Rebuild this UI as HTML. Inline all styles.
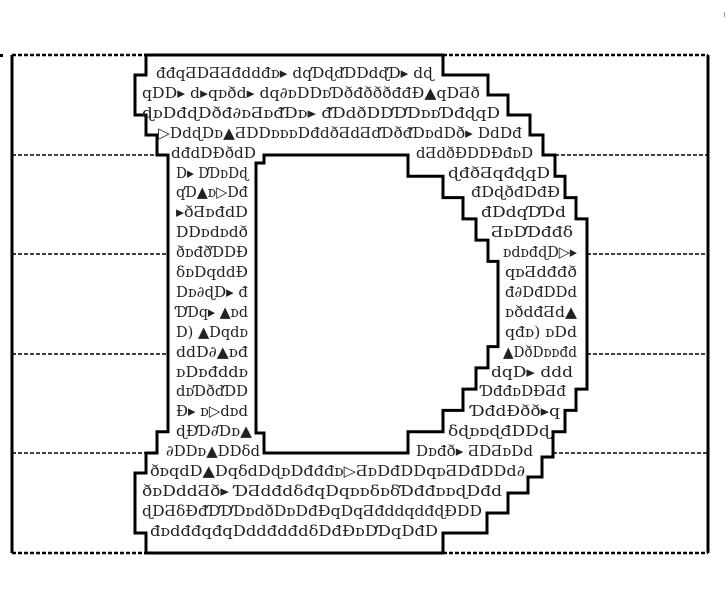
<!DOCTYPE html>
<html><head><meta charset="utf-8"><style>
html,body{margin:0;padding:0;background:#fff;width:726px;height:602px;overflow:hidden}
svg{display:block}
text{font-family:"DejaVu Serif","Liberation Serif",serif;font-size:15px;fill:#222}
</style></head><body>
<svg width="726" height="602" viewBox="0 0 726 602" xmlns="http://www.w3.org/2000/svg">
<rect x="0" y="54" width="3" height="3" fill="#000"/>
<rect x="724" y="12" width="1" height="5" fill="#999"/>
<g stroke="#000" fill="none">
<line x1="12" y1="55" x2="12" y2="553" stroke-width="3"/>
<line x1="708" y1="55" x2="708" y2="553" stroke-width="3"/>
<g stroke-width="2.5" stroke-dasharray="4 2">
<line x1="12" y1="55" x2="146" y2="55"/>
<line x1="443" y1="55" x2="708" y2="55"/>
<line x1="12" y1="553" x2="146" y2="553"/>
<line x1="443" y1="553" x2="708" y2="553"/>
</g>
<g stroke-width="1.5" stroke-dasharray="4 2">
<line x1="12" y1="155" x2="157" y2="155"/><line x1="555" y1="155" x2="708" y2="155"/>
<line x1="12" y1="254" x2="168" y2="254"/><line x1="587" y1="254" x2="708" y2="254"/>
<line x1="12" y1="354" x2="168" y2="354"/><line x1="587" y1="354" x2="708" y2="354"/>
<line x1="12" y1="453" x2="157" y2="453"/><line x1="553" y1="453" x2="708" y2="453"/>
</g>
<path stroke-width="3" d="M146,55 H443 V75 H488 V95 H508 V115 H530 V135 H543 V155 H555 V176.3 H565 V197.6 H576 V218.9 H587 V389.1 H576 V410.4 H565 V431.7 H553 V457 H542 V477 H528 V493 H508 V513 H487 V533 H443 V553 H146 V533 H135 V473 H146 V453 H157 V431.7 H168 V155 H157 V135 H146 V115 H135 V75 H146 Z"/>
<path stroke-width="3" d="M264,155 H408 V176.3 H443 V197.6 H463 V218.9 H476 V240.1 H488 V261.4 H498 V346.6 H488 V367.9 H476 V389.1 H463 V410.4 H443 V431.7 H408 V453 H264 V433 H256 V163 H264 Z"/>
</g>
<g>
<text x="156" y="78" textLength="277" lengthAdjust="spacingAndGlyphs">đđqƋDƋƋđddđᴅ▸ dqƊɖdƊDdɖƊ▸ dɖ</text>
<text x="142" y="98" textLength="338" lengthAdjust="spacingAndGlyphs">qDD▸ d▸qᴅðd▸ dq∂ᴅDDᴅƊðđðððđđĐ▲qDƋð</text>
<text x="142" y="118" textLength="358" lengthAdjust="spacingAndGlyphs">ɖᴅDđɖDðđ∂ᴅƋᴅđƊᴅ▸ đƊdðDDƊƊᴅᴅƊđɖqD</text>
<text x="158" y="138" textLength="364" lengthAdjust="spacingAndGlyphs">▷DdɖDᴅ▲ƋDDᴅᴅᴅDđdðƋdƋdƊðđƊᴅdDð▸ DdDđ</text>
<text x="171" y="158" textLength="85" lengthAdjust="spacingAndGlyphs">dđdDĐðdD</text>
<text x="416" y="158" textLength="117" lengthAdjust="spacingAndGlyphs">dƋdðĐDDĐđᴅD</text>
<text x="176" y="178" textLength="72" lengthAdjust="spacingAndGlyphs">D▸ DƊᴅDɖ</text>
<text x="448" y="178" textLength="102" lengthAdjust="spacingAndGlyphs">ɖđðƋqđɖqD</text>
<text x="176" y="197" textLength="72" lengthAdjust="spacingAndGlyphs">qƊ▲ᴅ▷Dđ</text>
<text x="471" y="197" textLength="89" lengthAdjust="spacingAndGlyphs">đDɖðđDđĐ</text>
<text x="176" y="217" textLength="72" lengthAdjust="spacingAndGlyphs">▸ðƋᴅđdD</text>
<text x="481" y="217" textLength="85" lengthAdjust="spacingAndGlyphs">đDdqƊƊd</text>
<text x="176" y="237" textLength="72" lengthAdjust="spacingAndGlyphs">DDᴅdᴅdð</text>
<text x="491" y="237" textLength="82" lengthAdjust="spacingAndGlyphs">ƋᴅDƊđđδ</text>
<text x="176" y="257" textLength="72" lengthAdjust="spacingAndGlyphs">ðᴅđðƊDĐ</text>
<text x="503" y="257" textLength="74" lengthAdjust="spacingAndGlyphs">ᴅdᴅđɖD▷▸</text>
<text x="176" y="277" textLength="72" lengthAdjust="spacingAndGlyphs">δᴅDqddĐ</text>
<text x="505" y="277" textLength="72" lengthAdjust="spacingAndGlyphs">qᴅƋdđđð</text>
<text x="176" y="297" textLength="72" lengthAdjust="spacingAndGlyphs">Dᴅ∂ɖD▸ đ</text>
<text x="505" y="297" textLength="72" lengthAdjust="spacingAndGlyphs">đ∂DđDDd</text>
<text x="176" y="317" textLength="72" lengthAdjust="spacingAndGlyphs">ƊƊq▸ ▲ᴅd</text>
<text x="505" y="317" textLength="72" lengthAdjust="spacingAndGlyphs">ᴅðdđƋd▲</text>
<text x="176" y="337" textLength="72" lengthAdjust="spacingAndGlyphs">D) ▲Dqdᴅ</text>
<text x="505" y="337" textLength="72" lengthAdjust="spacingAndGlyphs">qđᴅ) ᴅDd</text>
<text x="176" y="357" textLength="72" lengthAdjust="spacingAndGlyphs">ddD∂▲ᴅđ</text>
<text x="503" y="357" textLength="74" lengthAdjust="spacingAndGlyphs">▲DðDᴅᴅđd</text>
<text x="176" y="377" textLength="72" lengthAdjust="spacingAndGlyphs">ᴅDᴅđddᴅ</text>
<text x="491" y="377" textLength="82" lengthAdjust="spacingAndGlyphs">dqD▸ ddd</text>
<text x="176" y="396" textLength="72" lengthAdjust="spacingAndGlyphs">dᴅƊðdƊD</text>
<text x="481" y="396" textLength="85" lengthAdjust="spacingAndGlyphs">ƊđđᴅDĐƋđ</text>
<text x="176" y="416" textLength="72" lengthAdjust="spacingAndGlyphs">Đ▸ ᴅ▷dᴅd</text>
<text x="471" y="416" textLength="89" lengthAdjust="spacingAndGlyphs">ƊđdĐðð▸q</text>
<text x="176" y="436" textLength="76" lengthAdjust="spacingAndGlyphs">ɖĐƊ∂Ɗᴅ▲</text>
<text x="448" y="436" textLength="102" lengthAdjust="spacingAndGlyphs">δɖᴅᴅɖđDDɖ</text>
<text x="166" y="456" textLength="94" lengthAdjust="spacingAndGlyphs">∂DDᴅ▲DDδd</text>
<text x="416" y="456" textLength="117" lengthAdjust="spacingAndGlyphs">Dᴅđð▸ ƋDƋᴅDd</text>
<text x="150" y="476" textLength="375" lengthAdjust="spacingAndGlyphs">ðᴅqdD▲DqδdDɖᴅDđđđᴅ▷ƋᴅDđDDqᴅƋDđDDd∂</text>
<text x="142" y="496" textLength="360" lengthAdjust="spacingAndGlyphs">ðᴅDddƋð▸ ƊƋdđdδđqDqᴅᴅδᴅδƊđđᴅᴅɖDđd</text>
<text x="142" y="516" textLength="340" lengthAdjust="spacingAndGlyphs">ɖDƋδĐđƊƊƊᴅdðDᴅDđĐqDqƋđddqdđɖĐDD</text>
<text x="150" y="536" textLength="288" lengthAdjust="spacingAndGlyphs">đᴅdđđqđqDddđdđdδDđĐᴅDƊqDđD</text>
</g>
</svg>
</body></html>
